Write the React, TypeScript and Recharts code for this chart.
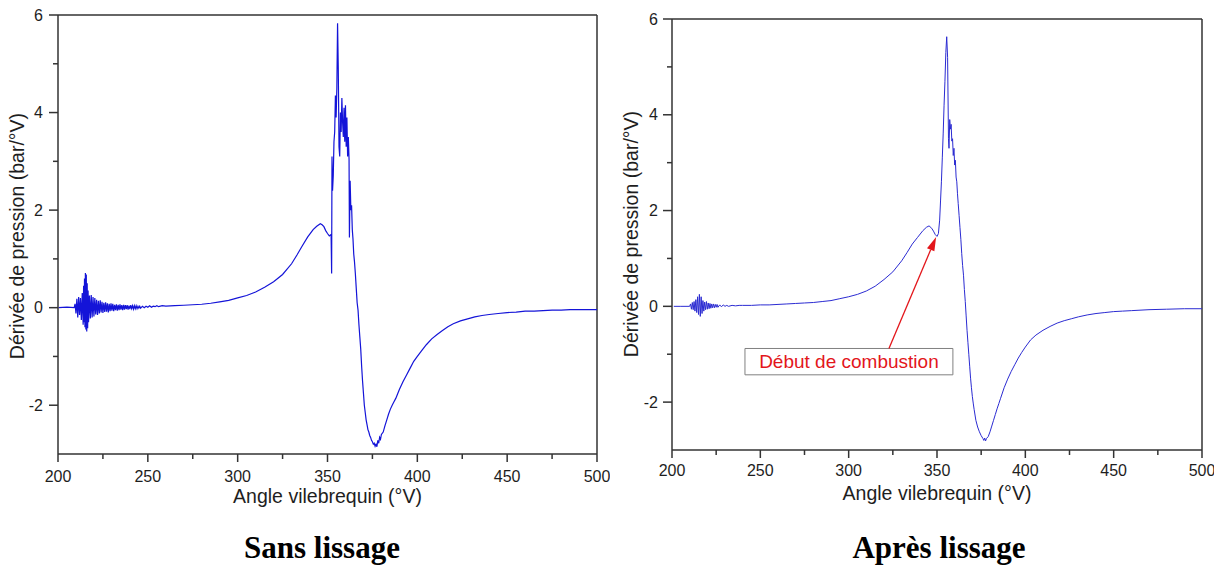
import React from "react";
import { LineChart, Line, XAxis, YAxis, ReferenceLine, ReferenceArea } from "recharts";

// crank angle (°V) and pressure derivative (bar/°V)
const rawNoiseAngle = [
  200.3, 205, 209, 209.5, 210, 210.5, 211, 211.5, 212, 212.5,
  213, 213.5, 214, 214.25, 214.5, 214.75, 215, 215.25, 215.5, 215.75,
  216, 216.25, 216.5, 216.75, 217, 217.5, 218, 218.5, 219, 219.5,
  220, 220.5, 221, 221.5, 222, 222.5, 223, 223.5, 224, 224.5,
  225, 225.5, 226, 226.5, 227, 227.5, 228, 228.5, 229, 229.5,
  230, 230.5, 231, 231.5, 232, 232.5, 233, 233.5, 234, 234.5,
  235, 235.5, 236, 236.5, 237, 237.5, 238, 238.5, 239, 239.5,
  240, 240.5, 241, 241.5, 242, 242.5, 243, 243.5, 244, 244.5,
  245, 245.5, 246, 247, 248, 249, 250, 251, 252, 253,
  254, 255, 256, 258, 260,
];
const rawNoiseValue = [
  0, 0.01, 0, 0.08, -0.12, 0.18, -0.2, 0.22, -0.15, 0.2,
  -0.25, 0.3, -0.35, 0.45, -0.3, 0.6, -0.4, 0.71, -0.45, 0.68,
  -0.49, 0.5, -0.42, 0.35, -0.3, 0.25, -0.22, 0.26, -0.2, 0.22,
  -0.18, 0.2, -0.14, 0.16, -0.15, 0.14, -0.12, 0.15, -0.1, 0.12,
  -0.11, 0.1, -0.09, 0.11, -0.08, 0.09, -0.1, 0.08, -0.07, 0.09,
  -0.06, 0.08, -0.07, 0.06, -0.05, 0.07, -0.06, 0.06, -0.05, 0.07,
  -0.04, 0.05, -0.05, 0.06, -0.04, 0.05, -0.03, 0.05, -0.04, 0.04,
  -0.03, 0.05, -0.02, 0.04, -0.03, 0.04, -0.02, 0.04, -0.02, 0.03,
  -0.01, 0.03, -0.01, 0.03, 0, 0.03, 0.01, 0.04, 0.01, 0.03,
  0.02, 0.04, 0.02, 0.04, 0.03,
];
const rawMainAngle = [
  265, 270, 275, 280, 285, 290, 295, 300, 305, 310,
  315, 320, 325, 330, 333, 336, 339, 342, 344, 346,
  347, 348, 349, 350, 351, 352, 352.3, 352.5, 352.8, 353.2,
  353.6, 354, 354.4, 354.8, 355.2, 355.6, 356, 356.4, 356.8, 357.2,
  357.6, 358, 358.4, 358.8, 359.2, 359.6, 360, 360.4, 360.8, 361.2,
  361.6, 362, 362.2, 362.6, 363, 363.4, 363.8, 364.2, 364.6, 365,
  365.5, 366, 366.5, 367, 367.5, 368, 368.5, 369, 369.5, 370,
  370.5, 371, 371.5, 372, 372.5, 373, 373.5, 374, 374.5, 375,
  375.5, 376, 376.5, 377, 377.5, 378, 378.5, 379, 379.5, 380,
  381, 382, 383, 384, 385, 386, 387, 388, 389, 390,
  392, 394, 396, 398, 400, 402, 405, 408, 411, 414,
  417, 420, 424, 428, 432, 436, 440, 445, 450, 455,
  460, 465, 470, 475, 480, 485, 490, 495, 500,
];
const rawMainValue = [
  0.04, 0.05, 0.06, 0.07, 0.09, 0.12, 0.15, 0.2, 0.25, 0.32,
  0.42, 0.53, 0.68, 0.9, 1.08, 1.27, 1.45, 1.6, 1.67, 1.72,
  1.7, 1.66, 1.58, 1.52, 1.47, 1.5, 0.7, 3.1, 2.4, 2.7,
  3.4, 3.6, 4.35, 3.9, 4.5, 5.83, 4.9, 3.3, 3.1, 4.0,
  3.6, 4.3, 3.8, 3.5, 4.1, 3.4, 4.15, 3.3, 3.9, 3.1,
  3.5, 3.04, 1.44, 2.6, 2.0, 2.1, 1.6, 1.4, 1.1, 0.95,
  0.7, 0.4, 0.1, -0.05, -0.35, -0.6, -0.85, -1.2, -1.5, -1.75,
  -2.0, -2.15, -2.3, -2.4, -2.5, -2.55, -2.62, -2.66, -2.72, -2.75,
  -2.8, -2.78, -2.84, -2.8, -2.85, -2.72, -2.78, -2.66, -2.7, -2.6,
  -2.55, -2.42, -2.3, -2.18, -2.08, -2.0, -1.93, -1.86, -1.77, -1.68,
  -1.52, -1.38, -1.24, -1.1, -1.0, -0.9, -0.76, -0.64, -0.55, -0.47,
  -0.39, -0.33, -0.27, -0.23, -0.19, -0.16, -0.14, -0.12, -0.1, -0.09,
  -0.07, -0.07, -0.06, -0.05, -0.05, -0.04, -0.04, -0.04, -0.04,
];

// same quantities after smoothing
const smoothNoiseAngle = [
  201, 205, 210, 210.5, 211, 211.5, 212, 212.5, 213, 213.5,
  214, 214.5, 215, 215.5, 216, 216.5, 217, 217.5, 218, 218.5,
  219, 219.5, 220, 220.5, 221, 221.5, 222, 222.5, 223, 223.5,
  224, 224.5, 225, 225.5, 226, 227, 228, 229, 230, 231,
  232, 234, 236, 238, 240, 245, 250, 255, 260,
];
const smoothNoiseValue = [
  0, 0, 0, 0.05, -0.06, 0.08, -0.07, 0.1, -0.1, 0.14,
  -0.13, 0.2, -0.17, 0.25, -0.21, 0.2, -0.15, 0.12, -0.1, 0.09,
  -0.07, 0.1, -0.06, 0.07, -0.05, 0.06, -0.04, 0.05, -0.03, 0.05,
  -0.03, 0.04, -0.02, 0.04, -0.02, 0.03, -0.01, 0.03, 0, 0.02,
  0, 0.02, 0.01, 0.02, 0.02, 0.02, 0.03, 0.03, 0.04,
];
const smoothMainAngle = [
  265, 270, 275, 280, 285, 290, 295, 300, 305, 310,
  315, 320, 325, 330, 333, 336, 339, 342, 344, 345.5,
  347, 348, 349, 350, 350.8, 351.5, 352, 352.5, 353, 353.5,
  354, 354.5, 355, 355.5, 356, 356.5, 356.8, 357.2, 357.6, 358,
  358.4, 358.8, 359.2, 359.6, 360, 360.4, 360.8, 361.2, 361.6, 362,
  362.5, 363, 363.5, 364, 364.5, 365, 365.5, 366, 366.5, 367,
  367.5, 368, 368.5, 369, 369.5, 370, 370.5, 371, 372, 373,
  374, 375, 376, 376.5, 377, 377.5, 378, 379, 380, 381,
  382, 383, 384, 385, 386, 388, 390, 392, 394, 396,
  398, 400, 403, 406, 410, 414, 418, 422, 426, 430,
  435, 440, 445, 450, 455, 460, 470, 480, 490, 500,
];
const smoothMainValue = [
  0.05, 0.06, 0.07, 0.08, 0.1, 0.12, 0.16, 0.2, 0.25, 0.32,
  0.42, 0.56, 0.72, 0.95, 1.12, 1.3, 1.44, 1.58, 1.65, 1.68,
  1.63, 1.57, 1.5, 1.46, 1.52, 1.8, 2.2, 2.6, 3.1, 3.6,
  4.2, 4.7, 5.3, 5.63, 5.2, 3.5, 3.3, 3.9, 3.7, 3.8,
  3.45, 3.5, 3.15, 3.3, 2.95, 3.05, 2.7, 2.6, 2.35, 2.15,
  1.9, 1.65, 1.4, 1.1, 0.85, 0.65, 0.35, 0.1, -0.2, -0.5,
  -0.75, -1.0, -1.25, -1.5, -1.7, -1.88, -2.02, -2.15, -2.38, -2.52,
  -2.62, -2.7, -2.76, -2.8, -2.75, -2.81, -2.76, -2.72, -2.62, -2.5,
  -2.38, -2.26, -2.14, -2.03, -1.92, -1.7, -1.52, -1.36, -1.22, -1.08,
  -0.96, -0.85, -0.7, -0.6, -0.5, -0.42, -0.35, -0.3, -0.26, -0.22,
  -0.18, -0.15, -0.13, -0.11, -0.1, -0.09, -0.07, -0.06, -0.05, -0.05,
];

const xTicks = [200, 225, 250, 275, 300, 325, 350, 375, 400, 425, 450, 475, 500];
const yTicks = [-2, -1, 0, 1, 2, 3, 4, 5, 6];

const toRows = (angles: number[], values: number[]) =>
  angles.map((a, i) => ({ angle: a, value: values[i] }));

const rawData = [...toRows(rawNoiseAngle, rawNoiseValue), ...toRows(rawMainAngle, rawMainValue)];
const smoothData = [
  ...toRows(smoothNoiseAngle, smoothNoiseValue),
  ...toRows(smoothMainAngle, smoothMainValue),
];

const FRAME = "#333";
const TEXT = "#1e1e1e";
const RED = "#e3161b";
const SANS = "Arial, 'Liberation Sans', sans-serif";

function XTick(props: any) {
  const { x, y, payload, gap } = props;
  const major = payload.value % 50 === 0;
  return (
    <g>
      <line x1={x} y1={y} x2={x} y2={y + (major ? 8 : 5)} stroke={FRAME} strokeWidth={1.5} />
      {major && (
        <text x={x} y={y + gap} textAnchor="middle" dominantBaseline="central"
          fontSize={16} fill={TEXT} fontFamily={SANS}>
          {payload.value}
        </text>
      )}
    </g>
  );
}

function YTick(props: any) {
  const { x, y, payload, gap } = props;
  const major = payload.value % 2 === 0;
  return (
    <g>
      <line x1={x} y1={y} x2={x - (major ? 9 : 5)} y2={y} stroke={FRAME} strokeWidth={1.5} />
      {major && (
        <text x={x - gap} y={y} textAnchor="end" dominantBaseline="central"
          fontSize={16} fill={TEXT} fontFamily={SANS}>
          {payload.value}
        </text>
      )}
    </g>
  );
}

function Arrow(props: any) {
  const { x1, y1, x2, y2 } = props;
  const ang = Math.atan2(y2 - y1, x2 - x1);
  const len = 14;
  const half = 4;
  const bx = x2 - len * Math.cos(ang);
  const by = y2 - len * Math.sin(ang);
  const px = -Math.sin(ang) * half;
  const py = Math.cos(ang) * half;
  return (
    <g>
      <line x1={x1} y1={y1} x2={bx} y2={by} stroke={RED} strokeWidth={1.3} />
      <polygon points={`${x2},${y2} ${bx + px},${by + py} ${bx - px},${by - py}`} fill={RED} />
    </g>
  );
}

function Panel(props: any) {
  const { data, stroke, strokeWidth, width, height, top, right, xAxisHeight, labelOffset, tickGap, yGap, children } = props;
  return (
    <LineChart width={width} height={height} data={data} margin={{ top, right, bottom: 0, left: 0 }}>
      <XAxis
        dataKey="angle"
        type="number"
        domain={[200, 500]}
        ticks={xTicks}
        interval={0}
        height={xAxisHeight}
        tickSize={0}
        tickMargin={0}
        tickLine={false}
        tick={(p: any) => <XTick {...p} gap={tickGap} />}
        axisLine={{ stroke: FRAME, strokeWidth: 1.5 }}
        label={{ value: "Angle vilebrequin (°V)", position: "insideBottom", offset: labelOffset, fill: TEXT, fontSize: 19.5, fontFamily: SANS }}
      />
      <YAxis
        type="number"
        domain={[-3, 6]}
        ticks={yTicks}
        interval={0}
        width={58}
        tickSize={0}
        tickMargin={0}
        tickLine={false}
        tick={(p: any) => <YTick {...p} gap={yGap} />}
        axisLine={{ stroke: FRAME, strokeWidth: 1.5 }}
      />
      <ReferenceLine y={6} stroke={FRAME} strokeWidth={1.5} />
      <ReferenceLine x={500} stroke={FRAME} strokeWidth={1.5} />
      {children}
      <Line
        type="linear"
        dataKey="value"
        stroke={stroke}
        strokeWidth={strokeWidth}
        dot={false}
        activeDot={false}
        isAnimationActive={false}
      />
    </LineChart>
  );
}

const yLabelStyle: React.CSSProperties = {
  position: "absolute",
  transform: "translate(-50%, -50%) rotate(-90deg)",
  whiteSpace: "nowrap",
  fontSize: 19.5,
  fontFamily: SANS,
  color: TEXT,
  lineHeight: 1,
};

const titleStyle: React.CSSProperties = {
  position: "absolute",
  top: 530,
  transform: "translateX(-50%)",
  whiteSpace: "nowrap",
  fontFamily: "'Liberation Serif', 'Times New Roman', serif",
  fontWeight: 700,
  fontSize: 31,
  lineHeight: "36px",
  color: "#000",
};

export default function App() {
  return (
    <div style={{ position: "absolute", left: 0, top: 0, width: 1225, height: 566, background: "#fff", overflow: "hidden" }}>
      <div style={{ position: "absolute", left: 0, top: 0 }}>
        <Panel
          data={rawData}
          stroke="#1414d8"
          strokeWidth={1.2}
          width={610}
          height={515}
          top={15}
          right={13}
          xAxisHeight={61}
          labelOffset={12}
          tickGap={22}
          yGap={15}
        />
      </div>
      <div style={{ position: "absolute", left: 614, top: 0 }}>
        <Panel
          data={smoothData}
          stroke="#2b2bd2"
          strokeWidth={1}
          width={600}
          height={515}
          top={19}
          right={12}
          xAxisHeight={65}
          labelOffset={15}
          tickGap={20}
          yGap={14}
        >
          <ReferenceArea
            x1={241.3}
            x2={359}
            y1={-1.43}
            y2={-0.88}
            fill="#fff"
            fillOpacity={1}
            stroke="#808080"
            strokeWidth={1}
            label={{ value: "Début de combustion", position: "center", fill: RED, fontSize: 19, fontFamily: SANS }}
          />
          <ReferenceLine
            segment={[{ x: 322.8, y: -0.88 }, { x: 349.5, y: 1.45 }]}
            shape={(p: any) => <Arrow {...p} />}
          />
        </Panel>
      </div>
      <div style={{ ...yLabelStyle, left: 18, top: 236 }}>Dérivée de pression (bar/°V)</div>
      <div style={{ ...yLabelStyle, left: 632, top: 234 }}>Dérivée de pression (bar/°V)</div>
      <div style={{ ...titleStyle, left: 322 }}>Sans lissage</div>
      <div style={{ ...titleStyle, left: 939 }}>Après lissage</div>
    </div>
  );
}
